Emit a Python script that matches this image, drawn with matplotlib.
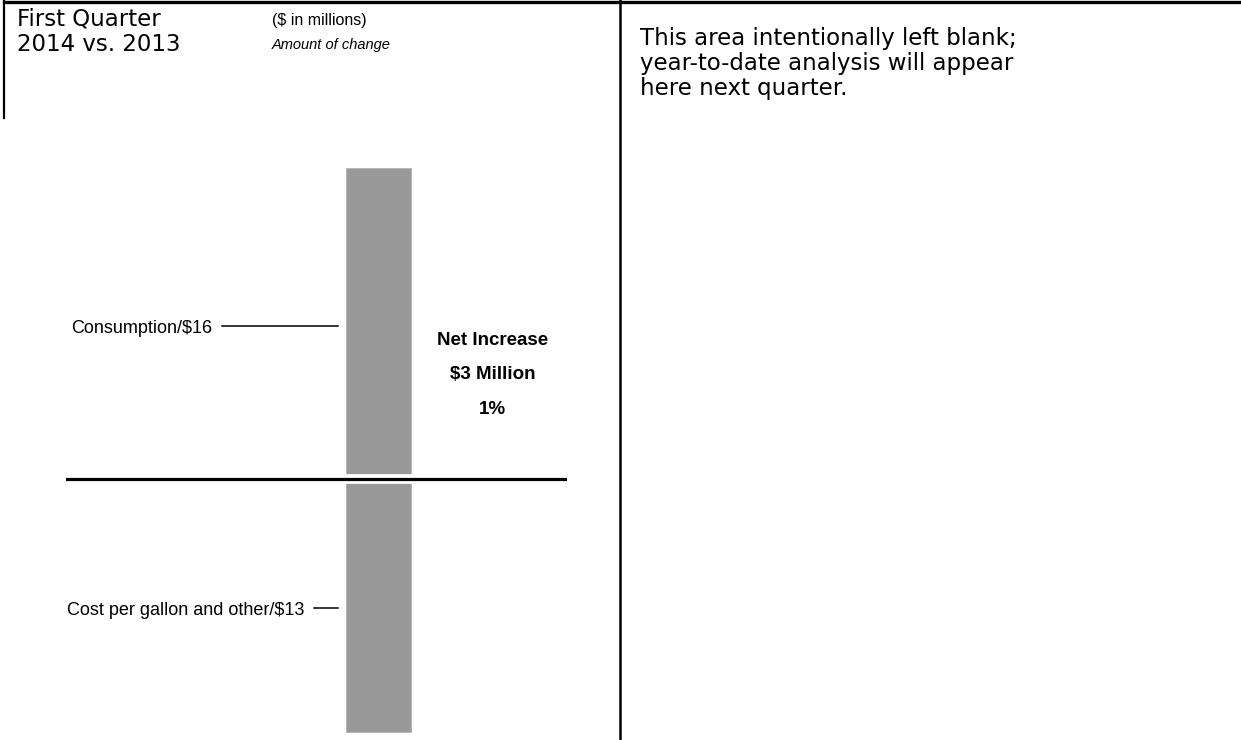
import matplotlib
matplotlib.use('Agg')
import matplotlib.pyplot as plt
from matplotlib.lines import Line2D

# data ($ in millions, amount of change)
labels = ['Consumption/$16', 'Cost per gallon and other/$13']
values = [16, -13]
net_text = ['Net Increase', '$3 Million', '1%']

# header / side note texts
title_lines = ['First Quarter', '2014 vs. 2013']
unit_text = '($ in millions)'
sub_text = 'Amount of change'
note_lines = ['This area intentionally left blank;', 'year-to-date analysis will appear', 'here next quarter.']

label_font = ['Liberation Sans', 'DejaVu Sans']

W, H = 1241, 740
fig = plt.figure(figsize=(W / 100, H / 100), dpi=100)
fig.set_facecolor('white')

# borders
fig.add_artist(Line2D([4 / W, 1], [1 - 1.5 / H, 1 - 1.5 / H], color='black', lw=2.4))
fig.add_artist(Line2D([4 / W, 4 / W], [1, 1 - 118 / H], color='black', lw=1.6))
fig.add_artist(Line2D([620 / W, 620 / W], [0, 1], color='black', lw=1.8))

# header texts
fig.text(17 / W, 1 - 25 / H, title_lines[0], fontsize=16.5, family='DejaVu Sans', va='baseline')
fig.text(17 / W, 1 - 51 / H, title_lines[1], fontsize=16.5, family='DejaVu Sans', va='baseline')
fig.text(272 / W, 1 - 20 / H, unit_text, fontsize=11.5, family=label_font, va='center')
fig.text(272 / W, 1 - 45 / H, sub_text, fontsize=10.5, family=label_font, style='italic', va='center')
for i, line in enumerate(note_lines):
    fig.text(640 / W, 1 - (38 + 25.5 * i) / H, line, fontsize=16.5, family='DejaVu Sans', va='center')

# chart axes: x from the baseline start to its end, y spans the full height
ax = fig.add_axes([66 / W, 0, (567 - 66) / W, 1])
ax.set_xlim(-312.5 / 65, 188.5 / 65)
ax.set_ylim(-(740 - 479) / 19.44, 479 / 19.44)
ax.axis('off')

ax.bar([0, 0], values, width=1, color='#999999', edgecolor='#b4b4b4', lw=0.6, zorder=1)
ax.axhline(0, color='white', lw=7, zorder=2)
ax.axhline(0, color='black', lw=2.3, zorder=3)

leader_len = [1.78, 0.37]
for lab, v, ll in zip(labels, values, leader_len):
    y = v / 2 - 0.13
    ax.plot([-0.62 - ll, -0.62], [y, y], color='black', lw=1.1)
    ax.text(-0.62 - ll - 0.15, y - 0.12, lab, family=label_font, fontsize=13, ha='right', va='center')

for i, t in enumerate(net_text):
    ax.text(1.76, 5.35 + (1 - i) * 1.75, t, family=label_font, fontsize=13.5, fontweight='bold',
            ha='center', va='center')

fig.savefig('out.png', dpi=100, facecolor='white')
